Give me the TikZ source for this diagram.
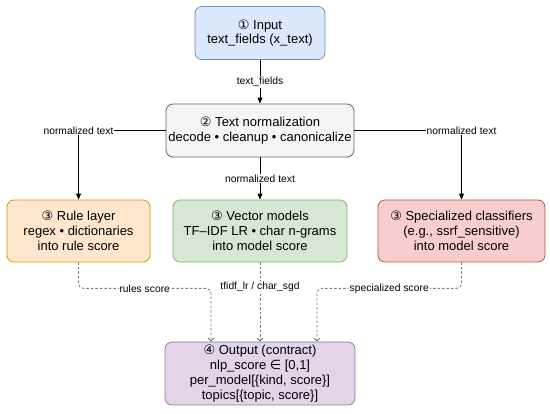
\documentclass[tikz,border=0pt]{standalone}
\usepackage{fontspec}
\setmainfont{Liberation Sans}
\newfontfamily\symfnt{DejaVu Sans}
\usetikzlibrary{arrows.meta}
\definecolor{inputfill}{HTML}{DAE8FC}
\definecolor{inputline}{HTML}{6C8EBF}
\definecolor{normfill}{HTML}{F5F5F5}
\definecolor{normline}{HTML}{666666}
\definecolor{rulefill}{HTML}{FFE6CC}
\definecolor{ruleline}{HTML}{D79B00}
\definecolor{vecfill}{HTML}{D5E8D4}
\definecolor{vecline}{HTML}{82B366}
\definecolor{specfill}{HTML}{F8CECC}
\definecolor{specline}{HTML}{B85450}
\definecolor{outfill}{HTML}{E1D5E7}
\definecolor{outline}{HTML}{9673A6}
\definecolor{dashcol}{HTML}{7A7A7A}
\newcommand{\circnum}[1]{{\symfnt #1}}
\begin{document}
\begin{tikzpicture}[
  x=1pt, y=-1pt,
  box/.style={
    draw,
    line width=0.8pt,
    rounded corners=7pt,
    align=center,
    font=\fontsize{13}{14.8}\selectfont,
    inner sep=2pt
  },
  lbl/.style={fill=white, text=black, inner sep=1pt, font=\fontsize{10.3}{11}\selectfont},
  arrow/.style={-{Triangle[length=6pt,width=5pt]}, line width=0.9pt},
  dasharrow/.style={-{Straight Barb[length=3pt,width=6pt]}, dash pattern=on 2.5pt off 2pt,
    draw=dashcol, line width=0.8pt, rounded corners=5pt}
]
\useasboundingbox (0,0) rectangle (550,414);

\node[box, fill=inputfill, draw=inputline, minimum width=130pt, minimum height=53pt] (input) at (260,33)
  {\circnum{①} Input\\text\_fields (x\_text)};
\node[box, fill=normfill, draw=normline, minimum width=188pt, minimum height=53pt] (norm) at (260,130.5)
  {\circnum{②} Text normalization\\decode • cleanup • canonicalize};
\node[box, fill=rulefill, draw=ruleline, minimum width=143pt, minimum height=62pt] (rule) at (78.5,231)
  {\circnum{③} Rule layer\\regex • dictionaries\\into rule score};
\node[box, fill=vecfill, draw=vecline, minimum width=174pt, minimum height=62pt] (vector) at (260,231)
  {\circnum{③} Vector models\\TF–IDF LR • char n-grams\\into model score};
\node[box, fill=specfill, draw=specline, minimum width=167pt, minimum height=62pt] (spec) at (461.5,231)
  {\circnum{③} Specialized classifiers\\(e.g., ssrf\_sensitive)\\into model score};
\node[box, fill=outfill, draw=outline, minimum width=190pt, minimum height=63pt] (output) at (260,373.5)
  {\circnum{④} Output (contract)\\nlp\_score {\symfnt ∈} [0,1]\\per\_model[\{kind, score\}]\\topics[\{topic, score\}]};

\draw[arrow] (input) -- node[lbl] {text\_fields} (norm);
\draw[arrow] (norm.west) -| node[lbl] {normalized text} (rule.north);
\draw[arrow] (norm) -- node[lbl] {normalized text} (vector);
\draw[arrow] (norm.east) -| node[lbl] {normalized text} (spec.north);

\draw[dasharrow] (rule.south) -- ++(0,26) -| node[lbl, pos=0.25] {rules score} ([xshift=-49pt]output.north);
\draw[dasharrow] (vector.south) -- node[lbl, pos=0.31] {tfidf\_lr / char\_sgd} (output.north);
\draw[dasharrow] (spec.south) -- ++(0,26) -| node[lbl, pos=0.25] {specialized score} ([xshift=57pt]output.north);
\end{tikzpicture}
\end{document}
